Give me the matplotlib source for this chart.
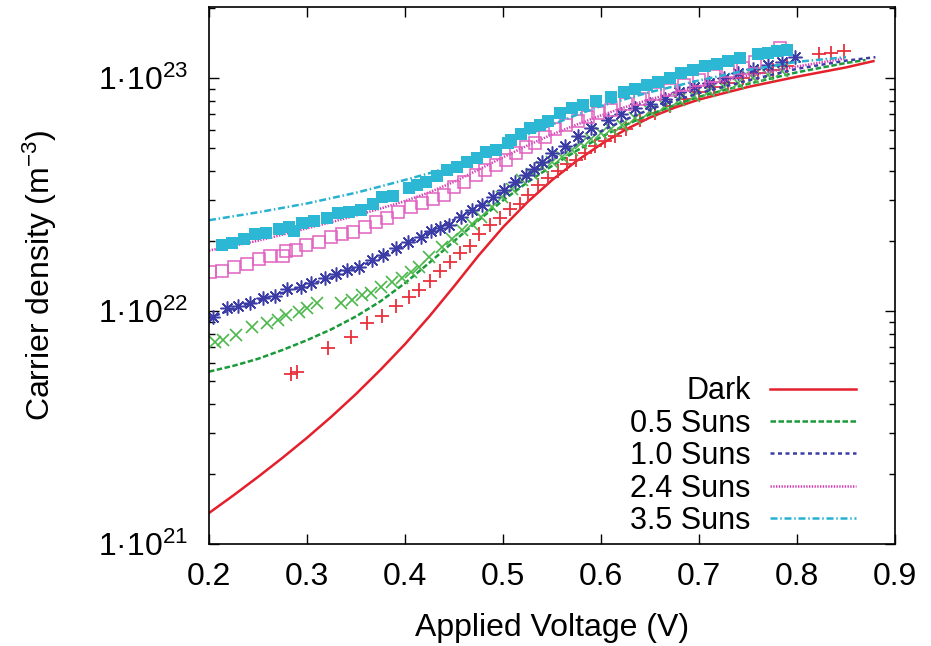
import matplotlib
matplotlib.use("Agg")
import matplotlib.pyplot as plt
import numpy as np
from matplotlib.ticker import FixedLocator, FixedFormatter, LogLocator, NullFormatter

plt.rcParams['font.family'] = ['Liberation Sans', 'DejaVu Sans']
plt.rcParams['mathtext.fontset'] = 'custom'
plt.rcParams['mathtext.rm'] = 'Liberation Sans'
plt.rcParams['mathtext.it'] = 'Liberation Sans:italic'
plt.rcParams['mathtext.bf'] = 'Liberation Sans:bold'

# ---- simulated curves (voltage in V, log10 of carrier density in m^-3) ----
dark_v = [0.200, 0.225, 0.250, 0.275, 0.300, 0.325, 0.350, 0.375, 0.400, 0.425, 0.450, 0.475,
          0.500, 0.525, 0.550, 0.575, 0.600, 0.625, 0.650, 0.675, 0.700, 0.750, 0.800, 0.850, 0.878]
dark_log = [21.133, 21.209, 21.288, 21.370, 21.456, 21.547, 21.644, 21.748, 21.858, 21.978, 22.106, 22.238,
            22.360, 22.468, 22.562, 22.644, 22.716, 22.779, 22.831, 22.873, 22.908, 22.962, 23.006, 23.046, 23.073]

sun05_v = [0.200, 0.225, 0.250, 0.275, 0.300, 0.325, 0.350, 0.375, 0.400, 0.425, 0.450, 0.475, 0.500,
           0.525, 0.550, 0.575, 0.600, 0.625, 0.650, 0.675, 0.700, 0.750, 0.800, 0.850, 0.870]
sun05_log = [21.740, 21.765, 21.795, 21.833, 21.875, 21.922, 21.977, 22.042, 22.120, 22.208, 22.300, 22.390, 22.475,
             22.553, 22.623, 22.688, 22.747, 22.799, 22.844, 22.884, 22.920, 22.975, 23.025, 23.065, 23.078]

sun10_v = [0.200, 0.225, 0.250, 0.275, 0.300, 0.325, 0.350, 0.375, 0.400, 0.425, 0.450, 0.475, 0.500,
           0.525, 0.550, 0.575, 0.600, 0.625, 0.650, 0.675, 0.700, 0.750, 0.800, 0.850, 0.880]
sun10_log = [21.970, 22.010, 22.045, 22.078, 22.110, 22.145, 22.185, 22.230, 22.283, 22.338, 22.392, 22.450, 22.515,
             22.585, 22.652, 22.716, 22.772, 22.822, 22.866, 22.903, 22.935, 22.990, 23.040, 23.075, 23.090]

sun24_v = [0.200, 0.225, 0.250, 0.275, 0.300, 0.325, 0.350, 0.375, 0.400, 0.425, 0.450, 0.475, 0.500,
           0.525, 0.550, 0.575, 0.600, 0.625, 0.650, 0.700, 0.750, 0.800, 0.850]
sun24_log = [22.260, 22.280, 22.302, 22.328, 22.355, 22.382, 22.410, 22.440, 22.472, 22.510, 22.555, 22.607, 22.660,
             22.711, 22.758, 22.800, 22.840, 22.876, 22.909, 22.965, 23.010, 23.050, 23.085]

sun35_v = [0.200, 0.250, 0.300, 0.350, 0.375, 0.400, 0.425, 0.450, 0.475, 0.500, 0.525, 0.550,
           0.575, 0.600, 0.650, 0.700, 0.750, 0.800, 0.850]
sun35_log = [22.390, 22.424, 22.462, 22.508, 22.535, 22.563, 22.592, 22.625, 22.665, 22.710, 22.757, 22.800,
             22.842, 22.880, 22.940, 22.990, 23.035, 23.070, 23.090]

# ---- measured points ----
dark_pts_v = [0.284, 0.290, 0.321, 0.345, 0.361, 0.377, 0.391, 0.404, 0.414, 0.426, 0.436, 0.446, 0.456, 0.466,
              0.476, 0.487, 0.497, 0.507, 0.517, 0.526, 0.536, 0.546, 0.556, 0.565, 0.574, 0.584, 0.594, 0.604,
              0.614, 0.625, 0.640, 0.655, 0.670, 0.685, 0.700, 0.715, 0.730, 0.745, 0.760, 0.775, 0.790,
              0.822, 0.835, 0.848]
dark_pts_log = [21.73, 21.74, 21.84, 21.89, 21.95, 21.98, 22.02, 22.06, 22.09, 22.13, 22.17, 22.21, 22.25, 22.28,
                22.33, 22.37, 22.40, 22.44, 22.46, 22.50, 22.54, 22.57, 22.60, 22.63, 22.65, 22.68, 22.71, 22.73,
                22.75, 22.78, 22.82, 22.85, 22.88, 22.91, 22.94, 22.96, 22.98, 23.00, 23.02, 23.035, 23.05,
                23.105, 23.11, 23.115]

sun05_pts_v = [0.206, 0.214, 0.228, 0.244, 0.259, 0.270, 0.279, 0.292, 0.300, 0.310, 0.335, 0.346, 0.356,
               0.365, 0.376, 0.387, 0.397, 0.406, 0.414, 0.424, 0.438, 0.448, 0.458, 0.468, 0.478, 0.489, 0.499,
               0.509, 0.519, 0.530, 0.540, 0.550, 0.560, 0.570, 0.580, 0.590, 0.600, 0.610, 0.621, 0.635, 0.650,
               0.665, 0.680, 0.695, 0.710, 0.725, 0.740, 0.755, 0.770, 0.785]
sun05_pts_log = [21.867, 21.876, 21.897, 21.931, 21.948, 21.961, 21.983, 21.996, 22.013, 22.034, 22.034, 22.047,
                 22.069, 22.077, 22.103, 22.124, 22.142, 22.167, 22.189, 22.230, 22.275, 22.310, 22.348, 22.375,
                 22.403, 22.445, 22.489, 22.525, 22.562, 22.590, 22.618, 22.640, 22.661, 22.690, 22.721, 22.740,
                 22.764, 22.780, 22.798, 22.830, 22.860, 22.880, 22.905, 22.925, 22.945, 22.960, 22.980, 23.000,
                 23.015, 23.030]

sun10_pts_v = [0.204, 0.218, 0.230, 0.242, 0.255, 0.267, 0.280, 0.294, 0.304, 0.318, 0.330, 0.341, 0.353,
               0.366, 0.378, 0.391, 0.403, 0.416, 0.427, 0.436, 0.445, 0.457, 0.468, 0.479, 0.490, 0.501, 0.512,
               0.523, 0.532, 0.540, 0.550, 0.563, 0.577, 0.590, 0.607, 0.620, 0.635, 0.650, 0.665, 0.680, 0.695,
               0.710, 0.725, 0.740, 0.755, 0.770, 0.785, 0.798]
sun10_pts_log = [21.974, 22.013, 22.021, 22.034, 22.056, 22.064, 22.094, 22.103, 22.120, 22.142, 22.159, 22.176,
                 22.189, 22.219, 22.240, 22.270, 22.296, 22.318, 22.343, 22.355, 22.369, 22.403, 22.433, 22.455,
                 22.489, 22.520, 22.554, 22.584, 22.610, 22.639, 22.678, 22.710, 22.750, 22.785, 22.820, 22.845,
                 22.870, 22.890, 22.910, 22.940, 22.960, 22.980, 23.000, 23.020, 23.040, 23.055, 23.070, 23.090]

sun24_pts_v = [0.201, 0.213, 0.226, 0.239, 0.251, 0.262, 0.276, 0.279, 0.289, 0.299, 0.312, 0.324, 0.336,
               0.347, 0.359, 0.370, 0.382, 0.393, 0.406, 0.417, 0.429, 0.440, 0.450, 0.460, 0.472, 0.482, 0.493,
               0.503, 0.513, 0.523, 0.533, 0.543, 0.553, 0.564, 0.577, 0.587, 0.597, 0.610, 0.625, 0.640, 0.655,
               0.670, 0.685, 0.700, 0.715, 0.730, 0.745, 0.757, 0.783]
sun24_pts_log = [22.167, 22.172, 22.189, 22.202, 22.223, 22.236, 22.236, 22.258, 22.262, 22.283, 22.296, 22.318,
                 22.330, 22.339, 22.361, 22.382, 22.399, 22.425, 22.446, 22.464, 22.480, 22.498, 22.532, 22.554,
                 22.584, 22.605, 22.627, 22.648, 22.678, 22.704, 22.721, 22.747, 22.780, 22.800, 22.815, 22.835,
                 22.850, 22.865, 22.890, 22.910, 22.930, 22.950, 22.970, 22.990, 23.010, 23.030, 23.045, 23.070,
                 23.130]

sun35_pts_v = [0.213, 0.223, 0.236, 0.247, 0.258, 0.271, 0.282, 0.287, 0.295, 0.307, 0.320, 0.332, 0.343,
               0.355, 0.367, 0.377, 0.388, 0.404, 0.412, 0.421, 0.433, 0.443, 0.453, 0.463, 0.473, 0.483, 0.493,
               0.505, 0.508, 0.518, 0.528, 0.538, 0.546, 0.558, 0.570, 0.582, 0.595, 0.610, 0.623, 0.635, 0.647,
               0.658, 0.670, 0.682, 0.694, 0.706, 0.718, 0.730, 0.742, 0.760, 0.770, 0.780, 0.790]
sun35_pts_log = [22.283, 22.292, 22.309, 22.330, 22.335, 22.352, 22.361, 22.343, 22.378, 22.386, 22.399, 22.421,
                 22.425, 22.433, 22.459, 22.489, 22.494, 22.528, 22.541, 22.554, 22.579, 22.605, 22.618, 22.639,
                 22.657, 22.682, 22.691, 22.721, 22.734, 22.760, 22.785, 22.800, 22.815, 22.850, 22.870, 22.885,
                 22.900, 22.920, 22.940, 22.955, 22.970, 22.983, 23.000, 23.020, 23.035, 23.050, 23.060, 23.075,
                 23.085, 23.105, 23.110, 23.115, 23.120]

labels = ['Dark', '0.5 Suns', '1.0 Suns', '2.4 Suns', '3.5 Suns']
line_colors = ['#e4202c', '#1a9a3a', '#3c3ca6', '#d43cb4', '#28b2d0']
point_colors = ['#e8303c', '#4cb84c', '#3c3ca6', '#e060c0', '#2cb8d4']

x_ticks = [0.2, 0.3, 0.4, 0.5, 0.6, 0.7, 0.8, 0.9]
y_ticks = [1e21, 1e22, 1e23]
y_ticklabels = ['1·10$^{21}$', '1·10$^{22}$', '1·10$^{23}$']

fig = plt.figure(figsize=(9.31, 6.46), dpi=100)
ax = fig.add_axes([209 / 931, 1 - 544 / 646, 686 / 931, 537 / 646])

lw = 1.8
styles = ['-', (0, (2.2, 1.0)), (0, (1.6, 1.4)), (0, (0.55, 0.55)), (0, (2.8, 1.1, 0.6, 1.1))]
curves = [(dark_v, dark_log), (sun05_v, sun05_log), (sun10_v, sun10_log),
          (sun24_v, sun24_log), (sun35_v, sun35_log)]
points = [(dark_pts_v, dark_pts_log), (sun05_pts_v, sun05_pts_log), (sun10_pts_v, sun10_pts_log),
          (sun24_pts_v, sun24_pts_log), (sun35_pts_v, sun35_pts_log)]
mk = [dict(marker='+', ms=10, mew=1.3), dict(marker='x', ms=9, mew=1.2),
      dict(marker=(8, 2, 0), ms=10, mew=1.1),
      dict(marker='s', ms=8.5, mew=1.1, mfc='none'), dict(marker='s', ms=8.5, mew=0)]

handles = []
for i in range(5):
    cv, cl = curves[i]
    h, = ax.plot(cv, 10 ** np.array(cl), color=line_colors[i], lw=lw, linestyle=styles[i], label=labels[i])
    handles.append(h)
    pv, pl = points[i]
    kw = dict(mk[i])
    kw.setdefault('mfc', point_colors[i])
    ax.plot(pv, 10 ** np.array(pl), linestyle='none', mec=point_colors[i], **kw)

ax.set_yscale('log')
ax.set_xlim(0.2, 0.9)
ax.set_ylim(1e21, 2.02e23)

ax.xaxis.set_major_locator(FixedLocator(x_ticks))
ax.set_xticklabels([f'{t:.1f}' for t in x_ticks])
ax.yaxis.set_major_locator(FixedLocator(y_ticks))
ax.yaxis.set_major_formatter(FixedFormatter(y_ticklabels))
ax.yaxis.set_minor_locator(LogLocator(base=10, subs=np.arange(2, 10)))
ax.yaxis.set_minor_formatter(NullFormatter())

ax.tick_params(which='both', direction='in', top=True, right=True, width=1.0, labelsize=23)
ax.tick_params(axis='x', pad=13)
ax.tick_params(axis='y', pad=15)
ax.tick_params(which='major', length=7)
ax.tick_params(which='minor', length=4)
for s in ax.spines.values():
    s.set_linewidth(1.2)

ax.set_xlabel('Applied Voltage (V)', fontsize=23, labelpad=15)
ax.set_ylabel('Carrier density (m$^{-3}$)', fontsize=23, labelpad=28)

leg = ax.legend(handles=handles, loc='lower right', bbox_to_anchor=(647 / 686, 8 / 537),
                frameon=False, fontsize=22, markerfirst=False, handlelength=2.8,
                handletextpad=0.65, labelspacing=0.08, borderpad=0, borderaxespad=0)
for col in leg._legend_handle_box.get_children():
    col.align = 'right'

fig.savefig('out.png', dpi=100)
